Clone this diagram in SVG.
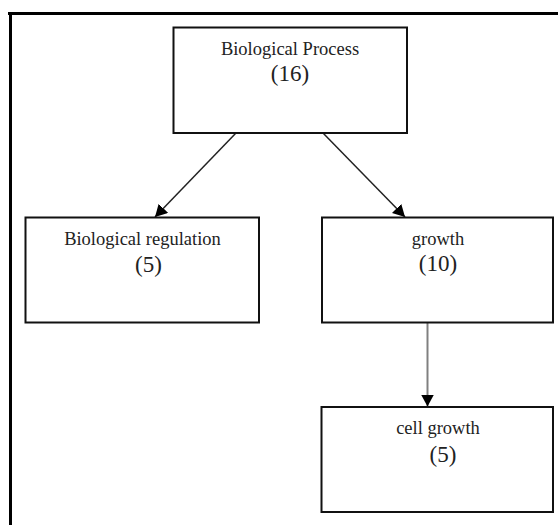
<svg xmlns="http://www.w3.org/2000/svg" width="558" height="525" viewBox="0 0 558 525">
  <style>
    .frame { stroke: #000; stroke-width: 3; fill: none; }
    .box { fill: #fff; stroke: #111; stroke-width: 2; }
    .lbl { font-family: "Liberation Serif", "Times New Roman", serif; font-size: 18.5px; fill: #222; text-anchor: middle; }
    .num { font-family: "Liberation Serif", "Times New Roman", serif; font-size: 23px; fill: #222; text-anchor: middle; }
    .edge { stroke: #222; stroke-width: 1.5; fill: none; }
    .edge.grey { stroke: #808080; stroke-width: 2; }
  </style>
  <defs>
    <marker id="arrow" markerUnits="userSpaceOnUse" markerWidth="13" markerHeight="13" refX="12" refY="6.5" orient="auto">
      <path d="M0,0 L12,6.5 L0,13 Z" fill="#000"/>
    </marker>
  </defs>
  <rect x="0" y="0" width="558" height="525" fill="#fff"/>
  <g id="frame">
    <line class="frame" x1="8" y1="13.5" x2="558" y2="13.5"/>
    <line class="frame" x1="10.5" y1="12" x2="10.5" y2="525"/>
  </g>
  <g id="connectors">
    <line class="edge" x1="236" y1="133" x2="155" y2="217" marker-end="url(#arrow)"/>
    <line class="edge" x1="323" y1="133" x2="405" y2="217" marker-end="url(#arrow)"/>
    <line class="edge grey" x1="427.5" y1="323" x2="427.5" y2="406.5" marker-end="url(#arrow)"/>
  </g>
  <g id="node-biological-process">
    <rect class="box" x="173.5" y="27.5" width="233.5" height="105.5"/>
    <text class="lbl" x="290" y="55">Biological Process</text>
    <text class="num" x="290" y="81">(16)</text>
  </g>
  <g id="node-biological-regulation">
    <rect class="box" x="25.5" y="217.5" width="233.5" height="105"/>
    <text class="lbl" x="142.5" y="244.5">Biological regulation</text>
    <text class="num" x="148.5" y="271.5">(5)</text>
  </g>
  <g id="node-growth">
    <rect class="box" x="322" y="217.5" width="231" height="105"/>
    <text class="lbl" x="438" y="244.5">growth</text>
    <text class="num" x="438" y="271">(10)</text>
  </g>
  <g id="node-cell-growth">
    <rect class="box" x="321.5" y="407" width="231.5" height="105"/>
    <text class="lbl" x="438" y="434">cell growth</text>
    <text class="num" x="443" y="461.5">(5)</text>
  </g>
</svg>
